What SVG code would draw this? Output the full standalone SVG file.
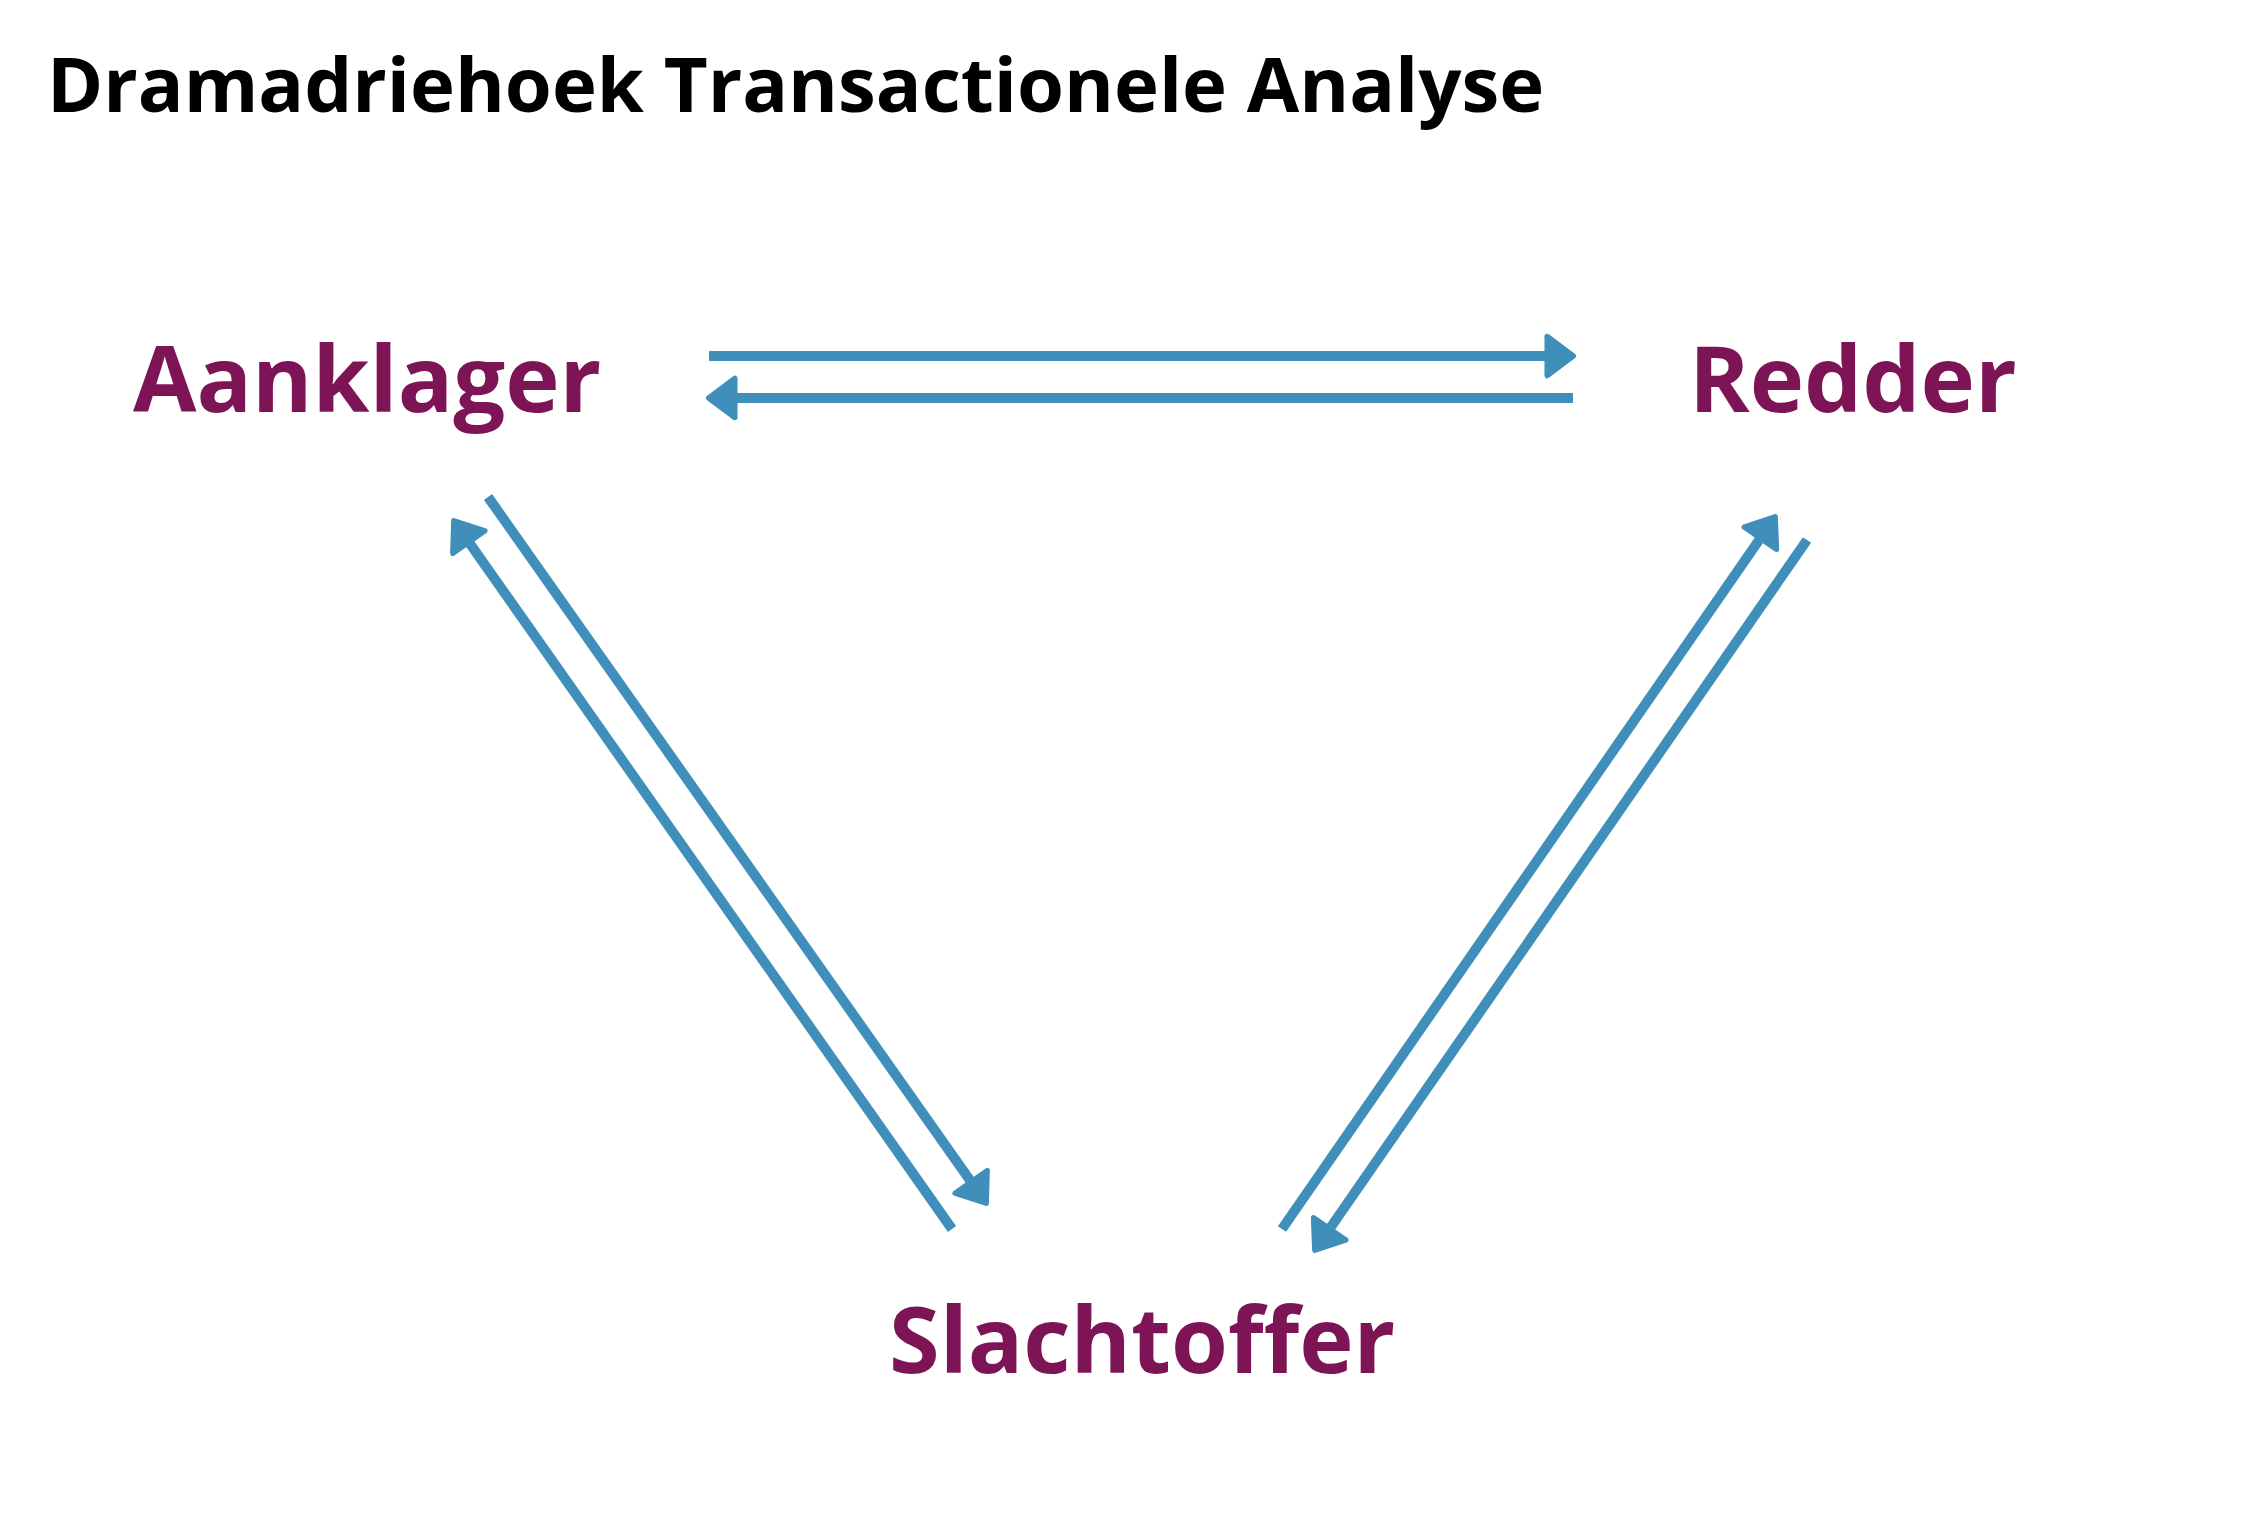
<svg xmlns="http://www.w3.org/2000/svg" width="2250" height="1530" viewBox="0 0 2250 1530">
<style>
.title{font-family:"Open Sans","Liberation Sans",sans-serif;font-weight:700;font-size:76px;fill:#000}
.node{font-family:"Open Sans","Liberation Sans",sans-serif;font-weight:700;font-size:92px;fill:#7D1456}
.conn{stroke:#3F8FBA;stroke-width:10;fill:none;marker-end:url(#ah)}
</style>
<defs>
<marker id="ah" markerUnits="userSpaceOnUse" orient="auto" refX="0" refY="0" markerWidth="40" markerHeight="50" viewBox="-3 -23 36 46" overflow="visible">
<path d="M2,-18 L26,0 L2,18 Z" fill="#3F8FBA" stroke="#3F8FBA" stroke-width="5" stroke-linejoin="round"/>
</marker>
</defs>
<rect width="2250" height="1530" fill="#fff"/>
<text class="title" x="47" y="112">Dramadriehoek Transactionele Analyse</text>
<g id="aanklager"><text class="node" x="133" y="412">Aanklager</text></g>
<g id="redder"><text class="node" x="1689" y="412">Redder</text></g>
<g id="slachtoffer"><text class="node" x="889" y="1373">Slachtoffer</text></g>
<g id="connectors">
<line class="conn" x1="709" y1="356" x2="1545" y2="356"/>
<line class="conn" x1="1573" y1="398" x2="737" y2="398"/>
<line class="conn" x1="488" y1="497" x2="969.9" y2="1180.1"/>
<line class="conn" x1="952" y1="1229" x2="470.1" y2="543.9"/>
<line class="conn" x1="1282" y1="1229" x2="1759.1" y2="540"/>
<line class="conn" x1="1807" y1="540" x2="1330.9" y2="1227"/>
</g>
</svg>
